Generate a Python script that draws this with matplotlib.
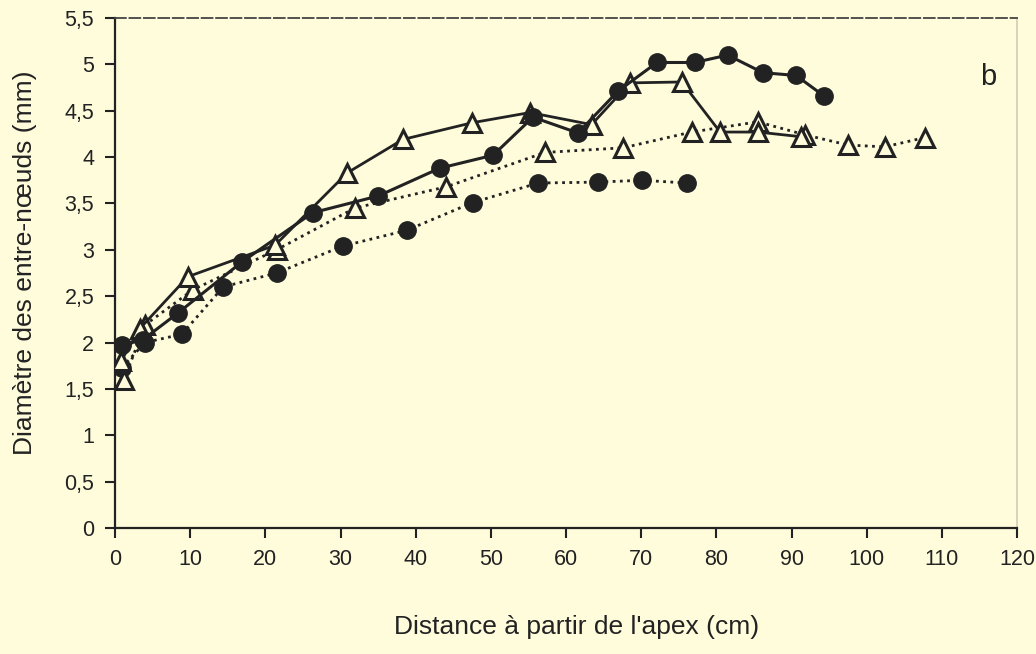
import matplotlib
matplotlib.use("Agg")
import matplotlib.pyplot as plt

# Data
x_solid_circ = [0.9, 3.7, 8.4, 16.9, 26.3, 35.0, 43.2, 50.3, 55.6, 61.6, 66.9, 72.1, 77.1, 81.5, 86.2, 90.6, 94.3]
y_solid_circ = [1.97, 2.03, 2.32, 2.87, 3.40, 3.58, 3.88, 4.02, 4.43, 4.26, 4.71, 5.02, 5.02, 5.10, 4.91, 4.88, 4.66]

x_dot_circ = [0.9, 4.0, 8.9, 14.4, 21.5, 30.3, 38.8, 47.6, 56.3, 64.2, 70.1, 76.1]
y_dot_circ = [1.73, 2.00, 2.09, 2.60, 2.75, 3.04, 3.21, 3.51, 3.72, 3.73, 3.75, 3.72]

x_solid_tri = [0.8, 3.3, 9.7, 21.3, 30.9, 38.3, 47.5, 55.2, 63.4, 68.5, 75.4, 80.5, 85.5, 91.2]
y_solid_tri = [1.80, 2.15, 2.71, 3.05, 3.83, 4.19, 4.37, 4.48, 4.35, 4.80, 4.81, 4.27, 4.27, 4.22]

x_dot_tri = [1.2, 4.0, 10.4, 21.5, 31.9, 44.1, 57.2, 67.6, 76.7, 85.5, 91.8, 97.5, 102.4, 107.7]
y_dot_tri = [1.60, 2.19, 2.57, 3.00, 3.45, 3.68, 4.05, 4.10, 4.27, 4.38, 4.24, 4.13, 4.11, 4.21]

x_ticks = list(range(0, 121, 10))
y_ticks = [0, 0.5, 1, 1.5, 2, 2.5, 3, 3.5, 4, 4.5, 5, 5.5]
y_tick_labels = ["0", "0,5", "1", "1,5", "2", "2,5", "3", "3,5", "4", "4,5", "5", "5,5"]

bg = "#fffcdc"
ink = "#222222"
plt.rcParams['font.family'] = ['Liberation Sans', 'DejaVu Sans']

fig = plt.figure(figsize=(10.36, 6.54), dpi=100, facecolor=bg)
ax = fig.add_axes([0.111, 0.1927, 0.8707, 0.7798], facecolor=bg)

dotted = (0, (1.0, 1.6))
ms = 12.5
ax.plot(x_dot_circ, y_dot_circ, color=ink, lw=2.0, ls=dotted, marker='o', ms=ms,
        mfc=ink, mec=ink, zorder=3)
ax.plot(x_dot_tri, y_dot_tri, color=ink, lw=2.0, ls=dotted, marker='^', ms=ms,
        mfc=bg, mec=ink, mew=2.2, zorder=3)
ax.plot(x_solid_tri, y_solid_tri, color=ink, lw=2.0, ls='-', marker='^', ms=ms,
        mfc=bg, mec=ink, mew=2.2, zorder=4)
ax.plot(x_solid_circ, y_solid_circ, color=ink, lw=2.2, ls='-', marker='o', ms=ms,
        mfc=ink, mec=ink, zorder=5)

ax.set_xlim(0, 120)
ax.set_ylim(0, 5.5)
ax.set_xticks(x_ticks)
ax.set_yticks(y_ticks)
ax.set_yticklabels(y_tick_labels)
ax.tick_params(axis='both', direction='out', length=7, width=1.5, colors=ink,
               labelsize=15.5, pad=8)

for side in ['left', 'bottom']:
    ax.spines[side].set_color(ink)
    ax.spines[side].set_linewidth(1.6)
ax.spines['top'].set_color('#444444')
ax.spines['top'].set_linewidth(1.3)
ax.spines['top'].set_linestyle((0, (6, 2)))
ax.spines['right'].set_color('#cfcdb8')
ax.spines['right'].set_linewidth(1.2)

ax.set_xlabel("Distance à partir de l'apex (cm)", fontsize=19, color=ink)
ax.set_ylabel("Diamètre des entre-nœuds (mm)", fontsize=19, color=ink)
ax.xaxis.set_label_coords(0.512, -0.17)
ax.yaxis.set_label_coords(-0.086, 0.52)

ax.text(0.968, 0.885, "b", transform=ax.transAxes, fontsize=21, color=ink,
        ha='center', va='center')

fig.savefig("out.png", dpi=100, facecolor=bg)
